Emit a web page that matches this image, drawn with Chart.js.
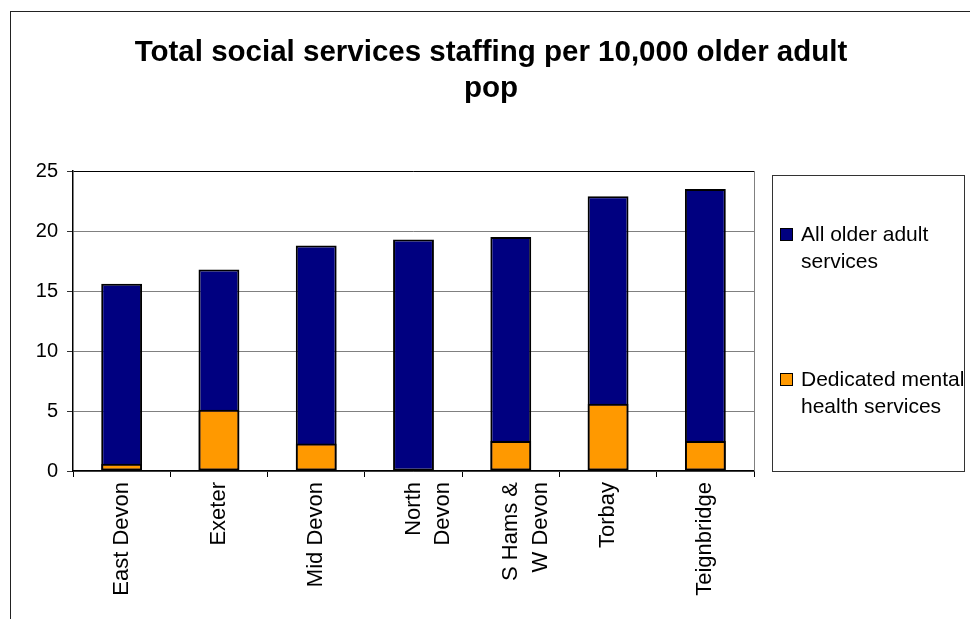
<!DOCTYPE html>
<html lang="en">
<head>
    <meta charset="UTF-8">
    <title>Total social services staffing per 10,000 older adult pop</title>
    <style>
        body {
            margin: 0;
            background: #ffffff;
            font-family: "Liberation Sans", Arial, sans-serif;
        }

        .wrap {
            position: relative;
            width: 970px;
            height: 619px;
            overflow: hidden;
        }

        .frame {
            position: absolute;
            left: 10px;
            top: 11px;
            width: 1000px;
            height: 700px;
            border-left: 1.5px solid #222;
            border-top: 1.5px solid #222;
            pointer-events: none;
        }

        canvas {
            position: absolute;
            left: 0;
            top: 0;
        }
    </style>
    <script src="https://cdn.jsdelivr.net/npm/chart.js@4"></script>
</head>
<body>
    <div class="wrap">
        <div class="frame"></div>
        <canvas id="staffChart" width="970" height="619"></canvas>
    </div>

    <script>
        const areas = ['East Devon', 'Exeter', 'Mid Devon', ['North', 'Devon'], ['S Hams &', 'W Devon'], 'Torbay', 'Teignbridge'];
        const allOlderAdult = [15.6, 16.8, 18.8, 19.3, 19.5, 22.9, 23.5];
        const mentalHealth = [0.6, 5.1, 2.3, 0, 2.5, 5.6, 2.5];
        const yTicks = [0, 5, 10, 15, 20, 25];
        const titleLines = ['Total social services staffing per 10,000 older adult', 'pop'];
        const legendLines = [['All older adult', 'services'], ['Dedicated mental', 'health services']];

        const FONT = '"Liberation Sans", Arial, sans-serif';

        // title centred over the whole frame, boxed legend, grey right edge of the plot
        const sideBits = {
            id: 'sideBits',
            afterDraw(chart) {
                const ctx = chart.ctx;
                const area = chart.chartArea;
                ctx.save();

                ctx.fillStyle = '#000';
                ctx.font = 'bold 29.5px ' + FONT;
                ctx.textAlign = 'center';
                ctx.textBaseline = 'alphabetic';
                titleLines.forEach((line, i) => ctx.fillText(line, 491, 61 + i * 36));

                ctx.strokeStyle = '#808080';
                ctx.lineWidth = 1;
                ctx.beginPath();
                ctx.moveTo(area.right + 0.5, area.top);
                ctx.lineTo(area.right + 0.5, area.bottom);
                ctx.stroke();

                const box = { x: 772, y: 175, w: 192, h: 296 };
                ctx.strokeStyle = '#333';
                ctx.strokeRect(box.x + 0.5, box.y + 0.5, box.w, box.h);

                ctx.beginPath();
                ctx.rect(box.x, box.y, box.w, box.h);
                ctx.clip();

                const rows = [228, 373];
                ctx.font = '21px ' + FONT;
                ctx.textAlign = 'left';
                chart.data.datasets.forEach((ds, i) => {
                    const y = rows[i];
                    ctx.fillStyle = ds.backgroundColor;
                    ctx.fillRect(780, y, 13, 13);
                    ctx.strokeStyle = '#000';
                    ctx.strokeRect(780.5, y + 0.5, 12, 12);
                    ctx.fillStyle = '#000';
                    legendLines[i].forEach((line, j) => {
                        ctx.fillText(line, 801, y + 13 + j * 27);
                    });
                });
                ctx.restore();
            }
        };

        const ctx = document.getElementById('staffChart').getContext('2d');
        new Chart(ctx, {
            type: 'bar',
            data: {
                labels: areas,
                datasets: [
                    {
                        label: 'All older adult services',
                        data: allOlderAdult,
                        backgroundColor: '#000080',
                        borderColor: '#000',
                        borderWidth: 2,
                        borderSkipped: false,
                        order: 1
                    },
                    {
                        label: 'Dedicated mental health services',
                        data: mentalHealth,
                        backgroundColor: '#FF9900',
                        borderColor: '#000',
                        borderWidth: 2,
                        borderSkipped: false,
                        order: 0
                    }
                ]
            },
            options: {
                responsive: false,
                animation: false,
                layout: { padding: { left: 0, right: 216, top: 171, bottom: 0 } },
                datasets: {
                    bar: { barPercentage: 0.42, categoryPercentage: 1 }
                },
                plugins: {
                    legend: { display: false },
                    tooltip: { enabled: false },
                    title: { display: false }
                },
                scales: {
                    x: {
                        stacked: true,
                        border: { color: '#000', width: 1.5 },
                        grid: { drawOnChartArea: false, color: '#000', tickLength: 6 },
                        ticks: {
                            color: '#000',
                            minRotation: 90,
                            maxRotation: 90,
                            padding: 5,
                            font: { family: FONT, size: 22, lineHeight: 1.35 }
                        },
                        afterFit(scale) { scale.height = 148; }
                    },
                    y: {
                        stacked: false,
                        min: 0,
                        max: 25,
                        border: { color: '#000', width: 1.5 },
                        grid: {
                            color: c => (c.tick && c.tick.value === 25 ? '#000' : '#808080'),
                            tickColor: '#333',
                            tickLength: 6
                        },
                        afterBuildTicks(scale) { scale.ticks = yTicks.map(v => ({ value: v })); },
                        ticks: {
                            color: '#000',
                            padding: 9,
                            font: { family: FONT, size: 20 }
                        },
                        afterFit(scale) { scale.width = 73; }
                    }
                }
            },
            plugins: [sideBits]
        });
    </script>
</body>
</html>
